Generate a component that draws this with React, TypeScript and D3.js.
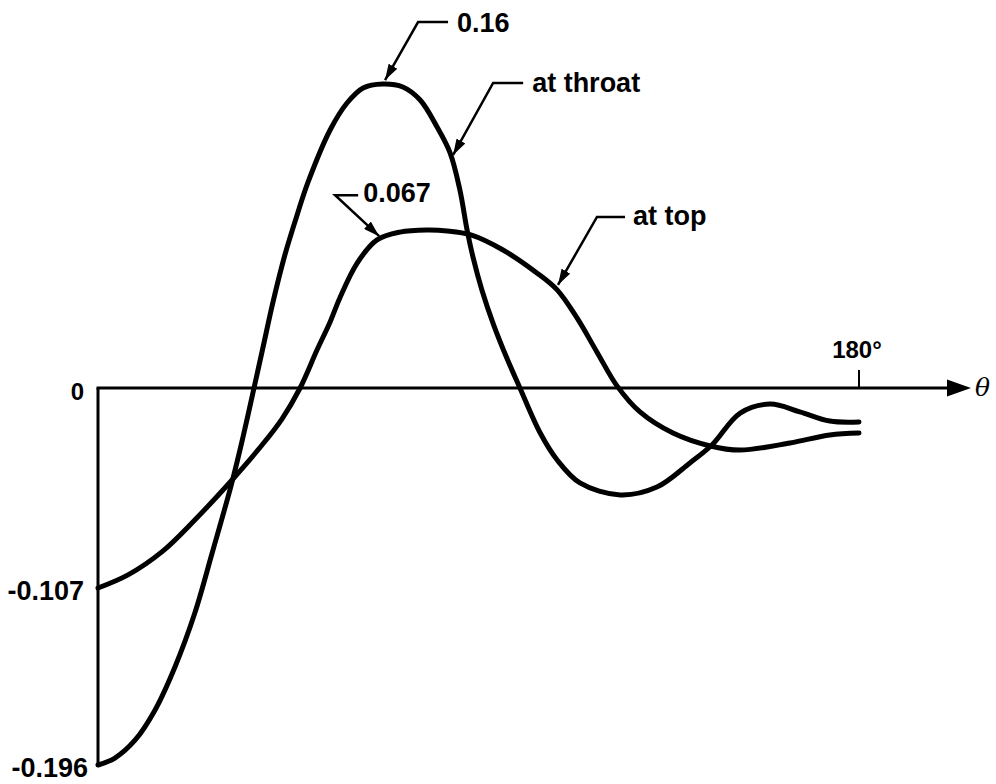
import { useMemo } from "react";
import * as d3 from "d3";

// angle in degrees
const throatDeg = [0, 4.0, 8.8, 13.5, 18.2, 22.9, 27.0, 31.7, 34.3, 36.9, 39.0, 41.4, 44.2, 47.1, 49.7, 54.9, 58.9, 62.7, 67.4, 72.1, 76.2, 80.2, 83.3, 85.6, 87.3, 88.7, 90.8, 93.6, 96.7, 99.8, 104.6, 108.6, 114.0, 123.5, 132.2, 140.0, 145.2, 151.9, 159.0, 166.0, 173.1, 180];
const throatVal = [-0.196, -0.1925, -0.1834, -0.1683, -0.1467, -0.1196, -0.0883, -0.0503, -0.0262, 0, 0.017, 0.0365, 0.0564, 0.0766, 0.0976, 0.1307, 0.1479, 0.1575, 0.16, 0.1581, 0.1498, 0.1326, 0.116, 0.0925, 0.067, 0.0555, 0.0416, 0.0267, 0.0127, 0, -0.0241, -0.0385, -0.0508, -0.0572, -0.053, -0.0401, -0.0305, -0.0134, -0.0086, -0.0128, -0.0177, -0.0182];

const topDeg = [0, 7.1, 15.1, 22.9, 31.7, 38.8, 43.5, 47.8, 51.8, 54.9, 57.2, 61.3, 66.0, 71.4, 77.8, 82.6, 88.2, 95.8, 103.8, 108.6, 113.3, 118.0, 122.8, 128.2, 136.0, 144.8, 151.9, 163.7, 173.1, 180];
const topVal = [-0.107, -0.1, -0.0877, -0.0706, -0.0492, -0.0305, -0.0166, 0, 0.0161, 0.028, 0.0382, 0.053, 0.0628, 0.0661, 0.067, 0.0666, 0.0649, 0.0585, 0.0488, 0.0416, 0.0297, 0.0153, 0.0008, -0.0128, -0.0241, -0.031, -0.0332, -0.0294, -0.0251, -0.0241];

// labelled values on the vertical axis (the original drawing is not to one scale)
const yMarks = [-0.196, -0.107, 0, 0.067, 0.16];
const yAxisLabels = ["-0.196", "-0.107", "0"];
const xTickLabel = "180°";

// annotations: arrow tip in data space, text
const noteText = ["0.16", "at throat", "0.067", "at top"];
const noteDeg = [67.9, 84.0, 66.5, 108.8];
const noteVal = [0.1625, 0.1148, 0.0644, 0.0437];

export default function App() {
  const width = 996;
  const height = 784;

  const x = d3.scaleLinear().domain([0, 180]).range([98, 859]);
  const y = d3.scaleLinear().domain(yMarks).range([765, 588, 388, 230, 84]);

  const line = d3
    .line<[number, number]>()
    .x((d) => x(d[0]))
    .y((d) => y(d[1]))
    .curve(d3.curveCatmullRom.alpha(0.5));

  const throat = useMemo(() => throatDeg.map((d, i) => [d, throatVal[i]] as [number, number]), []);
  const top = useMemo(() => topDeg.map((d, i) => [d, topVal[i]] as [number, number]), []);

  const font = "'Liberation Sans', Arial, sans-serif";

  // leader geometry (elbow offset from tip, horizontal length, text offset)
  const leaders = [
    { dx: 33, dy: -58, h: 30, tx: 39, ty: 10 },
    { dx: 40, dy: -72, h: 30, tx: 39, ty: 9 },
    { dx: -44, dy: -41, h: 23, tx: 28, ty: 7 },
    { dx: 39, dy: -68, h: 28, tx: 36, ty: 8 },
  ];

  const x0 = x(0);
  const yZero = y(0);
  const arrowTip = 971;

  return (
    <svg
      width={width}
      height={height}
      style={{ position: "absolute", left: 0, top: 0, background: "#fff" }}
    >
      <defs>
        <marker id="arr" viewBox="0 0 16 10" refX="16" refY="5" markerWidth="16" markerHeight="10" markerUnits="userSpaceOnUse" orient="auto">
          <path d="M0,0 L16,5 L0,10 Z" fill="#000" />
        </marker>
      </defs>

      {/* axes */}
      <line x1={x0} y1={yZero} x2={x0} y2={y(-0.196) + 2} stroke="#000" strokeWidth={3} />
      <line x1={x0 - 1.5} y1={yZero} x2={arrowTip - 20} y2={yZero} stroke="#000" strokeWidth={3} />
      <path d={`M${arrowTip - 24},${yZero - 8.5} L${arrowTip},${yZero} L${arrowTip - 24},${yZero + 8.5} Z`} fill="#000" />
      <text x={arrowTip + 4} y={yZero + 8} fontFamily="'DejaVu Serif', 'Liberation Serif', serif" fontStyle="italic" fontSize={25}>θ</text>

      {/* 180 tick */}
      <line x1={x(180)} y1={yZero} x2={x(180)} y2={yZero - 18} stroke="#000" strokeWidth={2} />
      <text x={x(180) - 2} y={yZero - 30} textAnchor="middle" fontFamily={font} fontWeight="bold" fontSize={24}>{xTickLabel}</text>

      {/* y labels */}
      {yAxisLabels.map((t) => {
        const v = +t;
        return (
          <text key={t} x={v === -0.196 ? 88 : 84} y={y(v) + 12} textAnchor="end" fontFamily={font} fontWeight="bold" fontSize={v === 0 ? 24 : 27}>
            {t}
          </text>
        );
      })}

      {/* curves */}
      <path d={line(throat) ?? ""} fill="none" stroke="#000" strokeWidth={5} strokeLinecap="round" strokeLinejoin="round" />
      <path d={line(top) ?? ""} fill="none" stroke="#000" strokeWidth={5} strokeLinecap="round" strokeLinejoin="round" />

      {/* annotations */}
      {noteText.map((t, i) => {
        const tipX = x(noteDeg[i]);
        const tipY = y(noteVal[i]);
        const l = leaders[i];
        const ex = tipX + l.dx;
        const ey = tipY + l.dy;
        return (
          <g key={t}>
            <path d={`M${ex + l.h},${ey} L${ex},${ey} L${tipX},${tipY}`} fill="none" stroke="#000" strokeWidth={2.5} markerEnd="url(#arr)" />
            <text x={ex + l.tx} y={ey + l.ty} fontFamily={font} fontWeight="bold" fontSize={27}>{t}</text>
          </g>
        );
      })}
    </svg>
  );
}
